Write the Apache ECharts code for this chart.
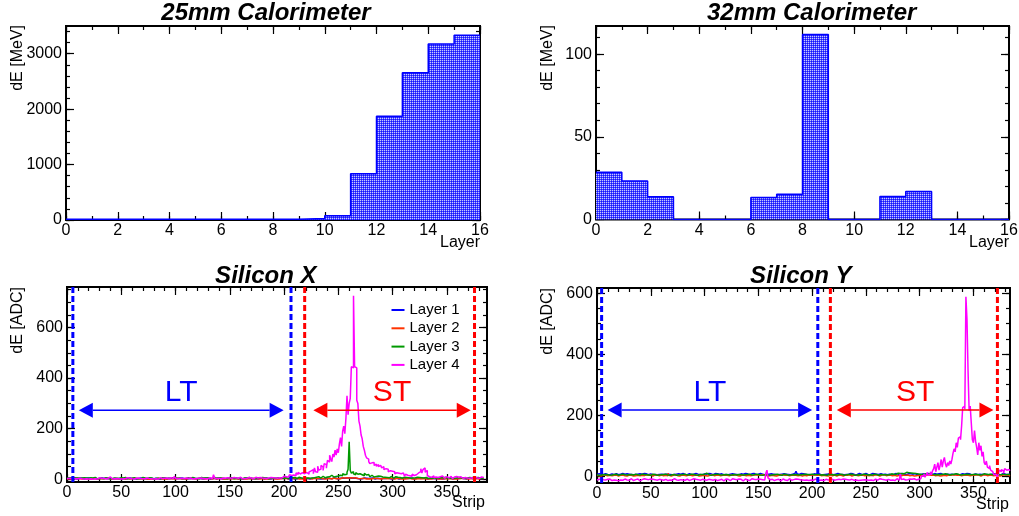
<!DOCTYPE html>
<html>
<head>
<meta charset="utf-8">
<title>Calorimeter and silicon strip energy deposits</title>
<script src="https://cdn.jsdelivr.net/npm/echarts@6/dist/echarts.min.js"></script>
<style>
  html, body { margin: 0; padding: 0; background: #fff; }
  #chart { width: 1019px; height: 516px; }
</style>
</head>
<body>
<div id="chart"></div>
<script>
// ---------------- data ----------------
// Energy deposit per calorimeter layer [MeV]
const cal25Layers = [12, 12, 12, 12, 12, 12, 12, 12, 12, 28, 78, 835, 1872, 2657, 3175, 3332];
const cal32Layers = [28.5, 23.3, 13.7, 0, 0, 0, 13.3, 15.2, 111.8, 0, 0, 13.9, 17.0, 0, 0, 0];

// Silicon X strip signals [ADC], strips 0..383
const siXLayer1 = [
  3,5,2,4,6,8,3,2,4,1,3,5,2,4,3,1,2,4,3,5,1,2,4,3,2,5,3,1,4,2,3,5,
  2,4,1,3,5,2,4,3,1,2,5,3,4,2,1,3,4,2,5,3,2,1,4,3,2,5,1,3,4,2,3,1,
  4,2,3,5,1,2,4,3,2,1,5,3,2,4,3,1,2,4,5,2,3,1,4,2,3,5,2,1,3,4,2,3,
  5,3,9,4,2,3,1,4,2,5,3,2,4,1,3,2,5,3,1,4,2,3,5,2,1,4,3,2,4,1,3,5,
  2,4,3,1,5,2,3,4,2,1,3,5,4,2,3,1,4,2,5,3,2,4,1,3,2,5,3,4,1,2,4,3,
  3,1,4,2,5,3,2,4,1,3,5,2,4,3,2,1,3,4,2,5,3,1,2,4,3,2,5,1,3,4,2,3,
  4,2,3,5,1,3,2,4,3,5,2,1,4,3,2,5,3,1,4,2,3,5,2,4,1,3,2,4,5,3,2,1,
  3,4,2,5,1,3,4,2,3,1,5,2,4,3,2,5,1,3,4,2,3,5,2,4,3,1,2,4,3,5,2,4,
  3,5,4,6,3,4,2,5,3,4,2,3,5,1,4,2,3,5,2,4,1,3,2,4,3,5,2,1,3,4,2,3,
  5,2,3,4,1,3,2,5,4,2,3,1,4,3,2,5,3,1,2,4,3,5,2,4,1,3,2,4,3,5,2,1,
  3,4,2,5,1,3,2,4,3,5,2,1,4,3,2,4,5,3,1,2,4,3,5,2,3,1,4,2,3,5,2,4,
  1,3,4,2,5,3,2,4,1,3,2,5,4,3,2,1,3,4,2,5,3,2,4,1,3,5,2,4,3,2,4,3
];
const siXLayer2 = [
  1,3,2,0,4,2,1,3,2,4,1,2,3,1,2,4,2,1,3,2,4,1,2,3,0,2,3,1,4,2,1,3,
  3,2,1,4,2,3,1,2,4,1,3,2,0,3,2,1,2,4,1,3,2,1,3,4,2,1,2,3,1,4,2,3,
  1,2,4,2,3,1,2,3,4,1,2,0,3,2,4,1,3,1,2,4,1,3,2,1,3,2,4,1,2,3,1,2,
  4,2,3,1,2,4,1,3,2,1,3,2,4,1,2,3,1,3,2,4,2,1,3,2,1,4,2,3,1,2,3,1,
  2,4,1,3,2,1,2,4,3,1,2,3,1,4,2,1,3,2,4,1,2,3,1,2,4,2,1,3,2,1,3,4,
  2,1,3,2,4,1,2,3,1,2,4,3,1,2,3,2,4,1,2,3,2,1,4,2,3,1,2,4,1,3,2,1,
  3,2,4,1,2,3,1,4,2,3,1,2,4,3,1,2,2,3,1,4,2,1,3,2,4,1,3,2,1,4,2,3,
  3,1,2,4,3,2,1,3,2,4,1,2,3,1,4,2,2,4,3,1,2,5,3,2,4,3,5,2,4,6,3,5,
  4,6,3,5,8,6,4,5,3,6,4,3,5,2,4,3,2,4,3,1,3,2,4,1,2,3,1,4,2,3,1,2,
  3,1,2,4,2,3,1,2,3,4,1,2,3,1,2,4,1,3,2,1,4,2,3,1,2,3,1,4,2,1,3,2,
  4,1,2,3,1,2,4,3,1,2,3,1,4,2,3,1,2,3,1,4,2,1,3,2,4,1,2,3,1,2,4,3,
  1,2,3,1,4,2,3,1,2,4,1,3,2,3,1,2,4,1,3,2,1,3,2,4,1,2,3,1,2,4,3,2
];
const siXLayer3 = [
  4,6,3,5,7,2,4,6,3,5,8,4,2,5,3,6,3,5,7,4,2,6,3,5,4,7,3,2,5,4,6,3,
  5,2,4,6,3,5,7,2,4,3,6,5,2,4,7,3,4,6,2,5,3,7,4,2,6,3,5,4,2,6,4,3,
  5,3,6,2,4,7,3,5,9,4,2,6,3,5,4,2,6,3,5,4,7,2,4,6,3,5,2,4,7,3,5,4,
  3,6,2,5,10,3,5,4,6,2,5,3,7,4,2,6,4,3,5,7,2,4,6,3,5,2,4,7,3,5,4,6,
  2,5,4,3,6,4,2,7,3,5,4,6,2,5,3,4,6,3,5,2,4,7,3,5,4,2,6,3,5,4,7,3,
  5,2,4,6,3,5,4,7,2,4,6,3,5,2,4,6,3,5,4,7,2,6,3,5,4,2,6,4,3,5,7,4,
  2,5,4,6,3,5,7,4,2,6,5,3,4,7,5,6,4,7,5,3,6,8,4,5,7,3,6,4,8,5,6,4,
  7,5,9,6,4,8,6,10,7,5,9,12,8,6,11,9,14,10,8,16,12,9,15,11,18,13,10,16,20,14,22,18,
  25,20,28,40,148,35,24,30,22,18,26,20,15,22,25,18,20,14,24,17,12,19,15,10,16,12,9,14,11,8,13,10,
  12,15,9,11,8,13,7,10,6,9,11,7,5,8,10,6,8,5,7,9,4,6,8,5,7,3,6,8,4,7,5,9,
  6,4,8,5,7,3,6,9,5,4,7,6,3,8,5,6,4,7,5,3,6,8,4,5,7,3,6,4,8,5,3,6,
  5,7,3,6,4,8,5,3,7,4,6,5,3,7,4,6,5,3,7,4,6,5,8,3,6,4,7,5,3,6,4,5
];
const siXLayer4 = [
  2,4,1,3,5,2,0,3,6,2,1,4,3,2,5,1,3,2,6,1,4,2,3,0,5,2,4,1,3,6,2,4,
  1,3,5,2,8,4,2,9,3,1,5,2,4,3,6,2,3,1,4,2,5,3,2,6,1,4,3,2,5,1,3,4,
  2,5,1,3,7,2,4,3,1,5,2,3,6,2,4,1,3,2,5,1,4,6,2,3,1,4,2,5,3,2,4,6,
  2,3,8,12,4,2,5,3,1,4,6,2,3,5,1,4,2,5,3,1,4,2,6,3,2,4,1,5,3,2,4,3,
  5,2,3,6,4,2,9,18,5,3,2,4,6,2,3,5,1,4,2,6,3,5,2,4,3,7,2,5,3,4,6,8,
  4,2,5,3,6,4,2,7,3,5,4,2,6,8,3,5,4,7,3,5,9,4,6,3,8,5,4,7,3,6,9,5,
  7,4,10,6,8,5,9,12,7,10,14,8,12,18,15,20,17,22,14,25,19,28,21,16,26,30,22,18,27,24,20,29,
  33,26,38,22,45,30,28,52,36,40,55,48,35,62,58,44,75,68,95,82,70,100,88,115,96,120,105,140,165,130,190,210,
  180,240,330,255,300,320,445,440,725,445,440,312,300,230,210,175,160,130,115,95,85,80,70,62,65,58,66,55,60,52,58,50,
  55,48,45,50,38,42,35,40,30,34,28,32,25,30,22,26,20,24,18,22,15,25,18,12,20,16,22,14,18,12,20,15,
  10,18,14,25,20,30,42,25,38,45,28,35,15,10,12,8,10,14,6,9,12,7,5,10,8,13,6,4,9,11,7,5,
  8,12,6,3,9,7,11,5,8,4,10,6,3,9,7,12,5,8,4,10,6,9,3,7,11,5,8,4,6,9,5,7
];

// Silicon Y strip signals [ADC], strips 0..383
const siYLayer1 = [
  6,8,5,7,9,6,5,8,7,6,9,5,7,8,6,5,7,9,6,5,8,7,6,9,5,7,6,8,5,7,9,6,
  8,5,7,6,9,7,5,8,6,7,5,9,6,8,7,5,6,8,7,5,9,6,7,5,8,6,9,7,5,6,8,7,
  5,7,9,6,8,5,7,6,9,7,5,8,6,7,5,9,7,6,8,5,7,9,6,5,8,7,6,9,5,7,8,6,
  9,5,7,8,6,7,5,9,6,8,7,5,6,9,7,8,5,7,6,8,9,5,7,6,8,5,9,7,6,8,5,7,
  8,6,9,5,7,8,6,7,5,9,6,8,7,5,6,8,7,9,5,6,8,7,5,9,6,7,8,5,7,6,9,7,
  6,8,5,7,9,6,8,5,7,6,9,7,5,8,6,7,9,6,7,5,8,7,6,9,5,16,8,6,7,9,5,8,
  6,7,9,5,8,6,7,5,9,8,6,7,5,8,9,6,7,5,8,6,9,7,5,8,6,7,9,5,8,7,6,9,
  5,7,8,6,9,5,7,6,8,7,5,9,6,8,7,5,8,6,7,9,5,7,8,6,5,9,7,6,8,5,7,9,
  6,8,5,7,9,6,7,8,5,6,9,7,8,5,6,7,9,5,8,6,7,9,5,7,6,8,5,9,7,6,8,5,
  7,9,6,8,5,7,6,9,8,5,7,6,9,7,5,8,6,7,5,9,8,6,7,5,8,9,6,7,5,8,6,9,
  7,5,8,6,9,7,5,6,8,7,9,5,6,8,7,5,9,6,7,8,5,7,6,9,5,8,7,6,9,5,7,8,
  6,5,9,7,8,6,5,7,9,6,8,5,7,6,9,7,5,8,6,9,7,5,8,6,7,9,5,7,8,6,9,7
];
const siYLayer2 = [
  3,2,4,1,3,5,2,3,4,2,1,3,5,2,4,3,2,4,3,1,5,3,2,4,3,2,5,1,3,4,2,3,
  4,1,3,2,5,3,4,2,1,3,4,2,3,5,1,3,2,4,3,1,3,5,2,4,3,2,1,4,3,2,5,3,
  4,2,10,3,1,4,3,2,5,3,2,4,1,3,4,2,3,5,2,4,3,1,3,4,2,5,3,2,4,3,1,3,
  2,4,3,5,2,3,1,4,3,2,5,3,2,4,3,1,4,3,2,5,3,1,4,2,3,5,2,3,4,1,3,2,
  5,3,2,4,1,3,4,2,3,5,2,4,3,1,2,4,3,2,5,3,4,1,3,2,4,3,5,2,3,4,1,3,
  2,4,3,5,2,3,1,4,3,2,5,3,4,2,3,1,4,3,2,5,3,2,4,1,3,5,2,4,3,2,1,4,
  3,5,2,3,4,1,3,2,5,3,4,2,3,1,4,3,2,5,3,4,2,3,1,4,3,5,2,3,4,2,1,3,
  4,2,3,5,1,3,4,2,3,2,5,3,1,4,3,2,3,4,2,5,3,1,4,3,2,5,3,4,2,1,3,4,
  2,3,5,3,4,2,1,3,4,2,5,3,2,4,3,1,3,5,2,4,3,2,1,4,3,5,2,3,4,1,3,2,
  4,3,2,5,3,4,1,3,2,4,3,5,2,3,1,4,3,2,4,3,5,1,3,2,4,3,2,5,3,4,1,3,
  2,4,3,5,2,3,4,1,3,2,5,3,4,2,3,1,4,3,2,5,3,1,4,2,3,5,2,4,3,1,3,2,
  5,3,4,2,1,3,4,2,5,3,2,4,3,1,3,4,2,5,3,4,2,3,1,4,3,2,5,3,4,2,3,1
];
const siYLayer3 = [
  5,3,6,4,7,5,3,6,4,5,7,3,6,4,5,6,4,7,5,3,6,5,4,7,3,5,6,4,7,5,3,6,
  5,4,6,7,3,5,6,4,5,7,3,6,4,5,7,4,6,3,5,7,4,6,5,3,7,4,6,5,3,6,4,7,
  5,4,6,3,7,5,4,6,5,3,7,4,6,5,4,6,3,7,5,4,6,5,3,7,4,6,5,4,7,3,5,6,
  4,6,5,7,3,10,4,6,5,3,7,5,4,6,5,7,3,5,6,4,7,5,3,6,4,5,7,3,6,5,4,6,
  7,4,5,6,3,5,7,4,6,5,3,6,4,7,5,4,6,5,3,7,4,6,5,4,7,3,6,5,4,6,5,3,
  7,4,6,5,3,6,4,7,5,4,6,3,5,7,4,6,5,3,6,4,7,5,4,6,3,5,7,4,6,5,3,6,
  4,7,5,6,3,5,4,7,6,5,4,6,3,7,5,4,6,5,7,4,6,3,5,7,4,6,5,4,7,5,6,4,
  5,7,4,6,5,3,7,5,4,6,5,7,4,6,5,3,6,4,7,5,6,4,5,7,3,6,5,4,7,5,6,4,
  5,7,4,6,5,3,7,6,4,5,7,5,6,4,7,5,6,8,5,7,9,6,8,10,7,9,11,8,12,9,11,13,
  10,12,9,11,13,10,12,9,11,8,10,7,9,6,8,7,5,8,6,7,5,9,6,7,8,5,7,6,8,5,7,6,
  4,7,6,8,5,7,6,4,8,6,5,7,6,8,5,7,6,4,7,5,8,6,5,7,4,6,8,5,7,6,4,7,
  5,6,8,4,7,5,6,8,5,7,4,6,5,7,8,5,6,7,4,8,5,6,7,5,4,7,6,5,8,6,4,6
];
const siYLayer4 = [
  -12,-10,-14,-9,-13,-11,-8,-12,-15,-10,-13,-9,-11,-14,-10,-12,-9,-13,-11,-15,-10,-12,-8,-13,-11,-9,-14,-12,-10,-13,-11,-8,
  -12,-14,-10,-11,-13,-9,-12,-15,-10,-11,-13,-8,-12,-10,-14,-11,-13,-9,-12,-10,-14,-11,-8,-13,-12,-10,-15,-11,-9,-13,-12,-10,
  -11,-14,-9,-12,-10,-13,-11,-8,-14,-12,-10,-13,-9,-11,-15,-12,-10,-13,-11,-9,-12,-14,-10,-11,-13,-8,-12,-10,-14,-11,-9,-13,
  -12,-10,-15,-11,-9,-13,-12,-10,-14,-11,-8,-13,-12,-10,-11,-14,-9,-12,-13,-10,-11,-15,-12,-9,-13,-10,-12,-14,-11,-8,-13,-10,
  -12,-11,-14,-9,-13,-10,-12,-15,-11,-9,-13,-12,-10,-14,-11,-8,-13,-10,-12,-11,-14,-9,-12,-10,-13,-11,-8,-12,-6,10,20,-5,
  -11,-13,-10,-12,-14,-9,-11,-13,-10,-12,-15,-11,-9,-13,-12,-10,-14,-11,-8,-12,-13,-10,-11,-14,-9,-12,-10,-13,-11,-15,-12,-9,
  -13,-10,-12,-11,-14,-8,-12,-10,-13,-11,-9,-14,-12,-10,-13,-11,-12,-9,-14,-11,-10,-13,-12,-8,-11,-14,-10,-12,-13,-9,-11,-12,
  -10,-13,-11,-14,-9,-12,-10,-13,-11,-8,-12,-14,-10,-11,-13,-9,-12,-10,-14,-11,-13,-9,-12,-10,-11,-15,-12,-9,-13,-10,-12,-11,
  -14,-10,-9,-12,-13,-11,-8,-12,-10,-14,-11,-9,-13,-12,-10,-11,-13,-9,-12,-10,-14,-11,-8,-12,-13,-10,8,-11,-9,-13,-12,-10,
  -11,-14,-9,-12,-10,-13,-8,-11,-12,-9,-10,-6,-8,-5,2,0,8,-3,5,12,3,8,15,5,18,25,40,15,30,45,20,35,
  55,30,50,62,40,30,45,35,50,40,55,75,90,80,110,95,125,130,120,165,225,230,220,588,515,345,215,230,175,120,110,150,
  115,95,70,110,85,100,65,80,45,38,50,30,25,35,20,15,10,5,8,2,-2,5,20,15,22,18,10,25,20,15,22,18
];

// Trigger windows: dashed boundaries [strip] and arrow [from, to, height]
const siXEdgesLT = [5.4, 206.4];
const siXEdgesST = [219, 375.5];
const siXArrowLT = [10.9, 199.6, 273];
const siXArrowST = [227, 372, 273];
const siYEdgesLT = [4.3, 205.3];
const siYEdgesST = [217, 372.3];
const siYArrowLT = [9.9, 200, 217];
const siYArrowST = [223, 368.6, 217];

// Axis ranges and tick values
const layerRange = [0, 16];
const layerMajor = [0, 2, 4, 6, 8, 10, 12, 14, 16];
const cal25Range = [0, 3500];
const cal25Major = [0, 1000, 2000, 3000];
const cal32Range = [0, 117];
const cal32Major = [0, 50, 100];
const siXStripRange = [0, 387];
const siYStripRange = [0, 384];
const stripMajor = [0, 50, 100, 150, 200, 250, 300, 350];
const siXAdcRange = [-10.7, 760];
const siYAdcRange = [-22, 617];
const adcMajor = [0, 200, 400, 600];

const layerNames = ['Layer 1', 'Layer 2', 'Layer 3', 'Layer 4'];
const layerColors = ['#0000ff', '#ff3300', '#009900', '#ff00ff'];

// ---------------- helpers ----------------
const FONT = "'Liberation Sans', Arial, Helvetica, sans-serif";

function steps(from, to, step) {
  const out = [];
  for (let v = from; v <= to + 1e-9; v += step) out.push(Math.round(v * 1000) / 1000);
  return out;
}

// histogram bins of unit width drawn as a stepped outline
function binPoints(values) {
  const pts = values.map((v, i) => [i, v]);
  pts.push([values.length, values[values.length - 1]]);
  return pts;
}

// main + minor ticks on the labelled side and on the opposite side
function frameAxes(dim, grid, range, majors, minors) {
  const lab = dim === 'x' ? 'bottom' : 'left';
  const opp = dim === 'x' ? 'top' : 'right';
  const base = {
    type: 'value', gridIndex: grid, min: range[0], max: range[1],
    axisLine: { show: false, onZero: false },
    splitLine: { show: false },
    axisPointer: { show: false }
  };
  const tick = (vals, len) => ({
    show: true, inside: true, length: len, customValues: vals,
    lineStyle: { color: '#000', width: 1.2 }
  });
  const label = {
    show: true, customValues: majors, margin: dim === 'x' ? 3 : 4,
    fontSize: 16, color: '#000', fontFamily: FONT,
    formatter: v => String(v)
  };
  return [
    Object.assign({}, base, { position: lab, axisTick: tick(majors, 8), axisLabel: label }),
    Object.assign({}, base, { position: lab, axisTick: tick(minors, 4), axisLabel: { show: false } }),
    Object.assign({}, base, { position: opp, axisTick: tick(majors, 8), axisLabel: { show: false } }),
    Object.assign({}, base, { position: opp, axisTick: tick(minors, 4), axisLabel: { show: false } })
  ];
}

// soft dotted 2x2 tile for the histogram fill
function dotTile() {
  const c = document.createElement('canvas');
  c.width = 2; c.height = 2;
  const ctx = c.getContext('2d');
  const img = ctx.createImageData(2, 2);
  const px = (i, r, g, b) => { img.data[i] = r; img.data[i + 1] = g; img.data[i + 2] = b; img.data[i + 3] = 255; };
  px(0, 200, 200, 255);   // (0,0) dot
  px(4, 72, 72, 255);     // (1,0)
  px(8, 72, 72, 255);     // (0,1)
  px(12, 20, 20, 255);    // (1,1)
  ctx.putImageData(img, 0, 0);
  return c;
}

function calSeries(grid, values) {
  return {
    type: 'line', xAxisIndex: grid * 4, yAxisIndex: grid * 4,
    data: binPoints(values), step: 'end', symbol: 'none', showSymbol: false,
    lineStyle: { color: '#0000ff', width: 1.5 },
    itemStyle: { color: '#0000ff' },
    areaStyle: { color: { image: dotTile(), repeat: 'repeat' }, opacity: 1 },
    animation: false, silent: true
  };
}

function layerSeries(grid, values, k) {
  return {
    name: layerNames[k], type: 'line', xAxisIndex: grid * 4, yAxisIndex: grid * 4,
    data: binPoints(values), step: 'end', symbol: 'none', showSymbol: false,
    lineStyle: { color: layerColors[k], width: 1.5 },
    itemStyle: { color: layerColors[k] },
    animation: false, silent: true
  };
}

// dashed window edges plus double-headed arrow and its label
function windowSeries(grid, edges, arrow, text, color) {
  return {
    type: 'custom', xAxisIndex: grid * 4, yAxisIndex: grid * 4,
    data: [[arrow[0], arrow[1], arrow[2], edges[0], edges[1]]],
    silent: true, animation: false, z: 5,
    renderItem(params, api) {
      const cs = params.coordSys;
      const a = api.coord([api.value(0), api.value(2)]);
      const b = api.coord([api.value(1), api.value(2)]);
      const e1 = api.coord([api.value(3), 0])[0];
      const e2 = api.coord([api.value(4), 0])[0];
      const head = 14, hw = 7.5;
      const dash = { stroke: color, lineWidth: 3, lineDash: [6, 3] };
      return {
        type: 'group',
        children: [
          { type: 'line', shape: { x1: e1, y1: cs.y, x2: e1, y2: cs.y + cs.height }, style: dash },
          { type: 'line', shape: { x1: e2, y1: cs.y, x2: e2, y2: cs.y + cs.height }, style: dash },
          { type: 'line', shape: { x1: a[0] + head, y1: a[1], x2: b[0] - head, y2: b[1] },
            style: { stroke: color, lineWidth: 1.5 } },
          { type: 'polygon', shape: { points: [[a[0], a[1]], [a[0] + head, a[1] - hw], [a[0] + head, a[1] + hw]] },
            style: { fill: color } },
          { type: 'polygon', shape: { points: [[b[0], b[1]], [b[0] - head, b[1] - hw], [b[0] - head, b[1] + hw]] },
            style: { fill: color } },
          { type: 'text', x: (a[0] + b[0]) / 2, y: a[1] - 17,
            style: { text: text, fill: color, fontSize: 30, fontFamily: FONT, align: 'center', verticalAlign: 'middle' } }
        ]
      };
    }
  };
}

function titleText(text, x, y) {
  return { type: 'text', x, y, silent: true,
    style: { text, fill: '#000', fontSize: 24, fontWeight: 'bold', fontStyle: 'italic', fontFamily: FONT,
             align: 'center', verticalAlign: 'middle' } };
}
function yTitle(text, x, y) {
  return { type: 'text', x, y, rotation: Math.PI / 2, silent: true,
    style: { text, fill: '#000', fontSize: 16, fontFamily: FONT, align: 'right', verticalAlign: 'bottom' } };
}
function xTitle(text, x, y) {
  return { type: 'text', x, y, silent: true,
    style: { text, fill: '#000', fontSize: 16, fontFamily: FONT, align: 'right', verticalAlign: 'middle' } };
}

// ---------------- chart ----------------
const chart = echarts.init(document.getElementById('chart'), null, { renderer: 'canvas' });

const gridBase = { show: true, borderColor: '#000', borderWidth: 2, backgroundColor: 'transparent',
                   containLabel: false, outerBoundsMode: 'none' };

const option = {
  backgroundColor: '#fff',
  animation: false,
  grid: [
    Object.assign({ left: 66, top: 26, width: 414, height: 194 }, gridBase),
    Object.assign({ left: 596, top: 26, width: 413, height: 193.5 }, gridBase),
    Object.assign({ left: 67, top: 287, width: 420, height: 195 }, gridBase),
    Object.assign({ left: 597, top: 288, width: 413, height: 195 }, gridBase)
  ],
  xAxis: [].concat(
    frameAxes('x', 0, layerRange, layerMajor, steps(0, 16, 1)),
    frameAxes('x', 1, layerRange, layerMajor, steps(0, 16, 1)),
    frameAxes('x', 2, siXStripRange, stripMajor, steps(0, 380, 10)),
    frameAxes('x', 3, siYStripRange, stripMajor, steps(0, 380, 10))
  ),
  yAxis: [].concat(
    frameAxes('y', 0, cal25Range, cal25Major, steps(0, 3400, 200)),
    frameAxes('y', 1, cal32Range, cal32Major, steps(0, 110, 10)),
    frameAxes('y', 2, siXAdcRange, adcMajor, steps(0, 750, 50)),
    frameAxes('y', 3, siYAdcRange, adcMajor, steps(0, 600, 50))
  ),
  legend: {
    data: layerNames, orient: 'vertical', left: 391.5, top: 301, padding: 0,
    itemWidth: 13, itemHeight: 2, itemGap: 0.3, icon: 'rect', selectedMode: false,
    textStyle: { fontSize: 15, color: '#000', fontFamily: FONT, lineHeight: 18 }
  },
  graphic: [
    titleText('25mm Calorimeter', 266, 13.4),
    titleText('32mm Calorimeter', 811.7, 13.4),
    titleText('Silicon X', 265.8, 276.7),
    titleText('Silicon Y', 800.8, 276.7),
    yTitle('dE [MeV]', 26, 25),
    yTitle('dE [MeV]', 556, 25),
    yTitle('dE [ADC]', 26, 287),
    yTitle('dE [ADC]', 556, 288),
    xTitle('Layer', 480, 242.5),
    xTitle('Layer', 1009, 242.5),
    xTitle('Strip', 485, 503),
    xTitle('Strip', 1009, 505)
  ],
  series: [
    calSeries(0, cal25Layers),
    calSeries(1, cal32Layers),
    layerSeries(2, siXLayer1, 0),
    layerSeries(2, siXLayer2, 1),
    layerSeries(2, siXLayer3, 2),
    layerSeries(2, siXLayer4, 3),
    windowSeries(2, siXEdgesLT, siXArrowLT, 'LT', '#0000ff'),
    windowSeries(2, siXEdgesST, siXArrowST, 'ST', '#ff0000'),
    layerSeries(3, siYLayer1, 0),
    layerSeries(3, siYLayer2, 1),
    layerSeries(3, siYLayer3, 2),
    layerSeries(3, siYLayer4, 3),
    windowSeries(3, siYEdgesLT, siYArrowLT, 'LT', '#0000ff'),
    windowSeries(3, siYEdgesST, siYArrowST, 'ST', '#ff0000')
  ]
};

chart.setOption(option);
</script>
</body>
</html>
